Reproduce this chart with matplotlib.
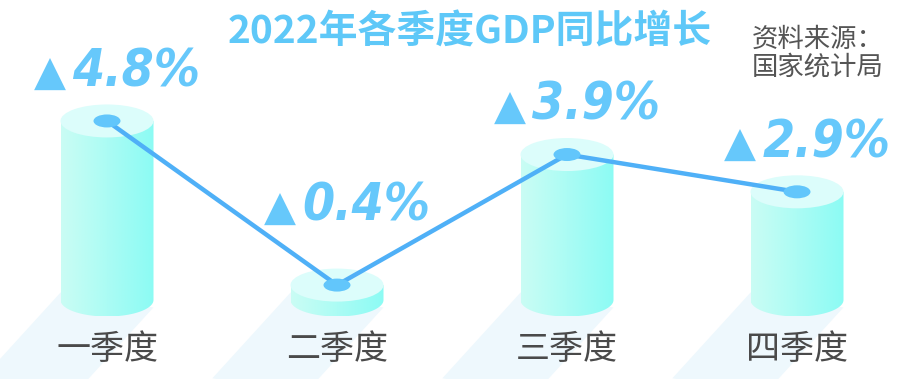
import numpy as np
import matplotlib
matplotlib.use("Agg")
import matplotlib.pyplot as plt
from matplotlib.patches import Ellipse, Polygon
from matplotlib.colors import LinearSegmentedColormap

plt.rcParams['font.family'] = ['Noto Sans CJK SC', 'DejaVu Sans']

# ---- data ----
categories = ["一季度", "二季度", "三季度", "四季度"]
growth = [4.8, 0.4, 3.9, 2.9]
value_labels = ["4.8%", "0.4%", "3.9%", "2.9%"]
title = "2022年各季度GDP同比增长"
source = "资料来源：\n国家统计局"

W, H = 898, 379
fig = plt.figure(figsize=(W / 100, H / 100), dpi=100)
ax = fig.add_axes([0, 0, 1, 1])
ax.set_axis_off()

px_per_x = 230.0
px_per_y = 37.3
base_px = 300.0  # baseline from top
x0_px = 107.0
ymin = -(H - base_px) / px_per_y
ax.set_ylim(ymin, ymin + H / px_per_y)
xmin = -x0_px / px_per_x
ax.set_xlim(xmin, xmin + W / px_per_x)

w = 93 / px_per_x
h = 33 / px_per_y

cmap = LinearSegmentedColormap.from_list("cyl", ["#cafdf4", "#8cfbf4"])
grad = np.linspace(0, 1, 256).reshape(1, -1)

xs = np.arange(len(categories))
t = np.linspace(np.pi, 2 * np.pi, 60)
for x, v in zip(xs, growth):
    # shadow
    ddx, ddy = -0.34, -2.3
    shadow = Polygon([(x - w / 2, 0.2), (x + w / 2, -0.2), (x + w / 2 + ddx, -0.2 + ddy),
                      (x - w / 2 + ddx, 0.2 + ddy)], closed=True,
                     facecolor="#eef8fd", edgecolor="none", zorder=1)
    ax.add_patch(shadow)
    # body outline
    arc = [(x + (w / 2) * np.cos(a), (h / 2) * np.sin(a)) for a in t]
    pts = [(x - w / 2, v)] + arc + [(x + w / 2, v)]
    body = Polygon(pts, closed=True, facecolor="none", edgecolor="none", zorder=2)
    ax.add_patch(body)
    im = ax.imshow(grad, cmap=cmap, aspect="auto", zorder=2,
                   extent=[x - w / 2, x + w / 2, -h / 2, v], interpolation="bilinear")
    im.set_clip_path(body)
    # top
    ax.add_patch(Ellipse((x, v), w, h, facecolor="#dcfdfb", edgecolor="none", zorder=3))

# line
ax.plot(xs, growth, color="#4fb0f7", lw=3.2, zorder=4, solid_capstyle="round")
for x, v in zip(xs, growth):
    ax.add_patch(Ellipse((x, v), 27 / px_per_x, 13 / px_per_y, facecolor="#62c6fb",
                         edgecolor="none", zorder=5))

# value labels: triangle + number
for x, v, lab in zip(xs, growth, value_labels):
    yb = max(v, 1.2) + 0.93
    ax.annotate("▲", (x, yb), xytext=(-41, 0), textcoords="offset points",
                ha="center", va="baseline", fontsize=30, color="#66c8fb",
                family=["DejaVu Sans"], zorder=6)
    ax.annotate(lab, (x, yb), xytext=(21, 0), textcoords="offset points",
                ha="center", va="baseline", fontsize=37, color="#66c8fb",
                fontweight="bold", style="italic", fontstretch="condensed",
                family=["DejaVu Sans"], zorder=6)

# category labels
for x, c in zip(xs, categories):
    ax.text(x, -1.34, c, ha="center", va="center", fontsize=24.5, color="#4a4a4a", zorder=6)

fig.text(0.523, 0.916, title, ha="center", va="center", fontsize=28,
         fontweight="bold", color="#5ec8f8")
fig.text(0.837, 0.86, source, ha="left", va="center", fontsize=19,
         color="#555555", linespacing=1.0)

fig.savefig("out.png", dpi=100)
